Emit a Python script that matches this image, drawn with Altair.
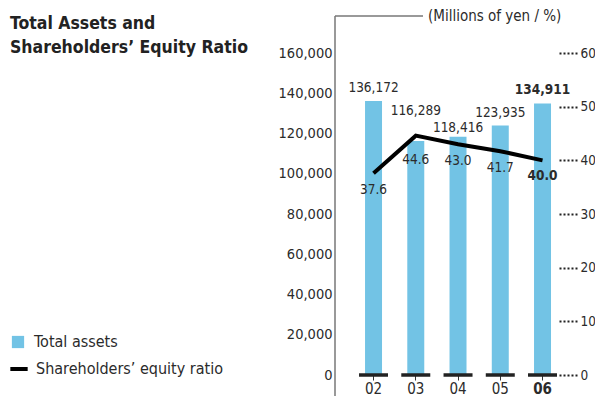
import altair as alt
import pandas as pd

years = ["02", "03", "04", "05", "06"]
total_assets = [136172, 116289, 118416, 123935, 134911]
equity_ratio = [37.6, 44.6, 43.0, 41.7, 40.0]

FONT = "DejaVu Sans Condensed, Liberation Sans Narrow, sans-serif"
BLUE = "#72C3E5"
TXT = "#2b2b2b"

df = pd.DataFrame({"year": years, "assets": total_assets, "ratio": equity_ratio})
base = alt.Chart(df).transform_calculate(
    sa="'Total assets'", sr="'Shareholders’ equity ratio'", zero="0"
)

xscale = alt.Scale(paddingInner=0.598, paddingOuter=0.45, align=0.79)
xaxis = alt.Axis(
    title=None, labelAngle=0, domain=False, ticks=True, tickSize=5,
    tickColor="#333", tickWidth=1, labelPadding=1, labelFontSize=15,
    labelFont=FONT, labelColor=TXT,
    labelFontWeight={"condition": {"test": "datum.value == '06'", "value": "bold"}, "value": "normal"},
)
xenc = alt.X("year:N", sort=years, scale=xscale, axis=xaxis)

yleft_scale = alt.Scale(domain=[0, 160000], nice=False)
yright_scale = alt.Scale(domain=[0, 60], nice=False)
yleft_axis = alt.Axis(title=None, values=list(range(0, 160001, 20000)),
                      labelExpr="format(datum.value, ',')",
                      domain=False, ticks=False, grid=False, labelPadding=3,
                      labelFontSize=14.5, labelFont=FONT, labelColor=TXT)
yright_axis = alt.Axis(orient="right", title=None, values=list(range(0, 61, 10)),
                       labelExpr="format(datum.value, 'd')",
                       domain=False, grid=False, ticks=True, tickSize=19,
                       tickDash=[2, 2], tickWidth=2, tickColor="#222",
                       labelPadding=2, labelFontSize=13.5, labelFont=FONT, labelColor=TXT)

bars = base.mark_bar().encode(
    x=xenc,
    y=alt.Y("assets:Q", scale=yleft_scale, axis=yleft_axis),
    color=alt.Color("sa:N", scale=alt.Scale(domain=["Total assets"], range=[BLUE]),
                    legend=alt.Legend(orient="none", legendX=-325, legendY=281, title=None,
                                      symbolType="square", symbolSize=150, symbolStrokeWidth=0,
                                      labelFontSize=16, labelFont=FONT, labelColor=TXT,
                                      labelOffset=8, labelLimit=400)),
)

basetick = base.mark_tick(size=29, thickness=3.5, color="#222", opacity=1).encode(
    x=xenc, y=alt.Y("zero:Q", scale=yleft_scale, axis=yleft_axis)
)

def bar_label(filt, dy, bold=False):
    return base.transform_filter(filt).mark_text(
        baseline="alphabetic", dy=dy, fontSize=13.5, font=FONT, color=TXT,
        fontWeight="bold" if bold else "normal",
    ).encode(x=xenc, y=alt.Y("assets:Q", scale=yleft_scale, axis=yleft_axis),
             text=alt.Text("assets:Q", format=","))

bl1 = bar_label("datum.year == '02' || datum.year == '05'", -9)
bl2 = bar_label("datum.year == '03'", -26)
bl3 = bar_label("datum.year == '04'", -5)
bl4 = bar_label("datum.year == '06'", -9, bold=True)

line = base.mark_line(strokeWidth=4).encode(
    x=xenc,
    y=alt.Y("ratio:Q", scale=yright_scale, axis=yright_axis),
    stroke=alt.Stroke("sr:N", scale=alt.Scale(domain=["Shareholders’ equity ratio"], range=["#000000"]),
                      legend=alt.Legend(orient="none", legendX=-327, legendY=305, title=None,
                                        symbolType="stroke", symbolStrokeWidth=4, symbolSize=300,
                                        labelFontSize=16, labelFont=FONT, labelColor=TXT,
                                        labelOffset=6, labelLimit=400)),
)

def ratio_label(filt, dy, bold=False):
    return base.transform_filter(filt).mark_text(
        baseline="middle", dy=dy, fontSize=13.5, font=FONT, color=TXT,
        fontWeight="bold" if bold else "normal",
    ).encode(x=xenc, y=alt.Y("ratio:Q", scale=yright_scale, axis=yright_axis),
             text=alt.Text("ratio:Q", format=".1f"))

rl1 = ratio_label("datum.year == '02' || datum.year == '04' || datum.year == '05'", 17)
rl2 = ratio_label("datum.year == '03'", 24)
rl3 = ratio_label("datum.year == '06'", 16, bold=True)

one = alt.Chart(pd.DataFrame({"a": [0]}))
vline = one.mark_rule(color="#777", strokeWidth=1.5).encode(
    x=alt.value(0), y=alt.value(-37), y2=alt.value(360))
hline = one.mark_rule(color="#777", strokeWidth=1.5).encode(
    x=alt.value(0), x2=alt.value(88), y=alt.value(-37))
unit = one.mark_text(align="left", baseline="middle", fontSize=15, font=FONT, color=TXT).encode(
    x=alt.value(93), y=alt.value(-37), text=alt.value("(Millions of yen / %)"))
title = one.mark_text(align="left", baseline="alphabetic", fontSize=17.5, font=FONT,
                      fontWeight="bold", color="#222", lineBreak="\n", lineHeight=24).encode(
    x=alt.value(-325), y=alt.value(-24),
    text=alt.value("Total Assets and\nShareholders’ Equity Ratio"))

left = alt.layer(bars, basetick, bl1, bl2, bl3, bl4)
right = alt.layer(line, rl1, rl2, rl3)

chart = alt.layer(vline, hline, unit, title, left, right).resolve_scale(
    y="independent", color="independent", stroke="independent"
).properties(
    width=224, height=322,
    autosize=alt.AutoSizeParams(type="none"),
    padding={"left": 327, "top": 45, "right": 36, "bottom": 21},
).configure_view(stroke=None)

chart.save("out.html", embed_options={"renderer": "svg", "actions": False})
